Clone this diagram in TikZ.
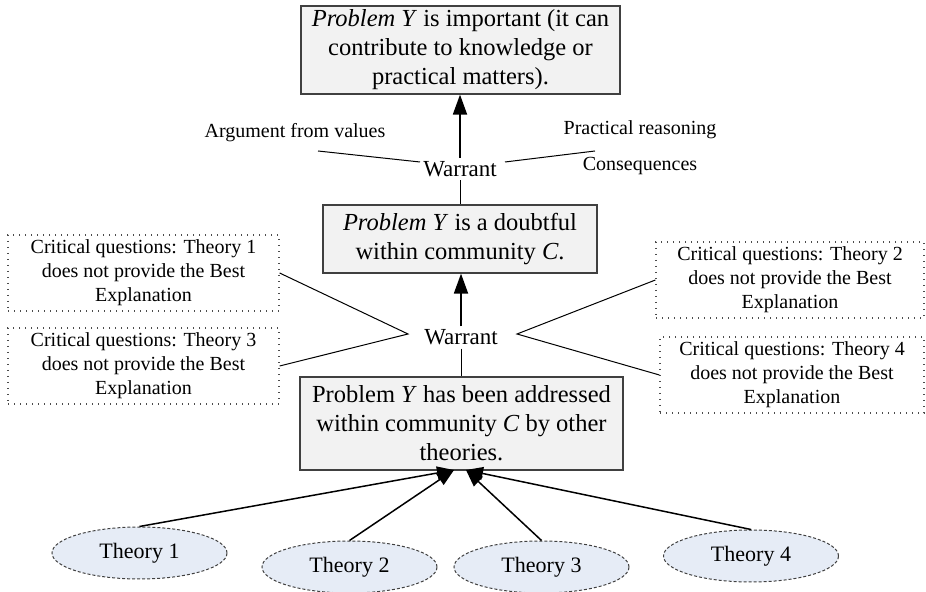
\documentclass[tikz,border=0pt]{standalone}
\usepackage{fontspec}
\setmainfont{Liberation Serif}
\usetikzlibrary{arrows.meta,shapes.geometric,calc}
\definecolor{boxfill}{HTML}{F2F2F2}
\definecolor{ellfill}{HTML}{E6ECF6}
\begin{document}
\begin{tikzpicture}[x=0.5pt,y=-0.5pt,
  claim/.style={draw=black!75, fill=boxfill, line width=0.6pt, align=center, inner sep=0pt,
    font=\fontsize{12.25pt}{14.5pt}\selectfont},
  cq/.style={draw=black!70, dash pattern=on 0.5pt off 2.5pt, line width=0.6pt, align=center,
    inner sep=0pt, minimum height=38pt, font=\fontsize{10pt}{12pt}\selectfont},
  theory/.style={ellipse, draw=black!75, dash pattern=on 1.5pt off 1pt, line width=0.5pt,
    fill=ellfill, minimum width=87.5pt, minimum height=26pt, inner sep=0pt,
    font=\fontsize{11pt}{13pt}\selectfont},
  warrant/.style={inner sep=1.5pt, font=\fontsize{11.5pt}{13pt}\selectfont},
  lbl/.style={inner sep=0pt, font=\fontsize{10pt}{12pt}\selectfont},
  conn/.style={line width=0.5pt},
  uparrow/.style={line width=0.9pt, -{Triangle[length=10pt,width=7pt]}},
  theoryarrow/.style={line width=0.75pt, -{Triangle[length=8.5pt,width=6.5pt]}},
]
\useasboundingbox (0,0) rectangle (926,592);

% claims
\node[claim, minimum width=159.5pt, minimum height=44pt] (top) at (460.5,50)
  {\textit{Problem Y} is important (it can\\contribute to knowledge or\\practical matters).};
\node[claim, minimum width=137pt, minimum height=34pt] (mid) at (460,239)
  {\textit{Problem Y} is a doubtful\\within community \textit{C}.};
\node[claim, minimum width=161.5pt, minimum height=46.5pt] (bot) at (461.5,423.5)
  {Problem \textit{Y} has been addressed\\within community \textit{C} by other\\theories.};

% warrants and labels
\node[warrant] (w1) at (460,169) {Warrant};
\node[warrant] (w2) at (461,337.5) {Warrant};
\node[lbl] (av) at (295,133) {Argument from values};
\node[lbl] (pr) at (640,130) {Practical reasoning};
\node[lbl] (cs) at (640,166) {Consequences};

% critical questions
\node[cq, minimum width=135.5pt] (q1) at (143.5,273)
  {Critical questions: Theory 1\\does not provide the Best\\Explanation};
\node[cq, minimum width=135.5pt] (q3) at (143.5,366)
  {Critical questions: Theory 3\\does not provide the Best\\Explanation};
\node[cq, minimum width=134pt] (q2) at (790,280)
  {Critical questions: Theory 2\\does not provide the Best\\Explanation};
\node[cq, minimum width=132pt] (q4) at (792,375)
  {Critical questions: Theory 4\\does not provide the Best\\Explanation};

% theories
\node[theory] (t1) at (139.5,553) {Theory 1};
\node[theory] (t2) at (349.5,567) {Theory 2};
\node[theory] (t3) at (541.5,567) {Theory 3};
\node[theory] (t4) at (751,556) {Theory 4};

% coordinates
\coordinate (avE) at (318,151);
\coordinate (w1L) at (420,162);
\coordinate (w1R) at (505,162);
\coordinate (prE) at (595,151);
\coordinate (apL) at (408,334);
\coordinate (apR) at (517,334);
\coordinate (tipL) at (454,470);
\coordinate (tipR) at (466,470);

% connectors
\draw[uparrow] (w1.north) -- (w1.north |- top.south);
\draw[conn] (w1.south) -- (w1.south |- mid.north);
\draw[conn] (avE) -- (w1L);
\draw[conn] (w1R) -- (prE);

\draw[uparrow] (w2.north) -- (w2.north |- mid.south);
\draw[conn] (w2.south) -- (w2.south |- bot.north);
\draw[conn] (q1.east) -- (apL) -- (q3.east);
\draw[conn] (q2.west) -- (apR) -- (q4.west);

\draw[theoryarrow] (t1.north) -- (tipL);
\draw[theoryarrow] (t2.north) -- (tipL);
\draw[theoryarrow] (t3.north) -- (tipR);
\draw[theoryarrow] (t4.north) -- (tipR);
\end{tikzpicture}
\end{document}
